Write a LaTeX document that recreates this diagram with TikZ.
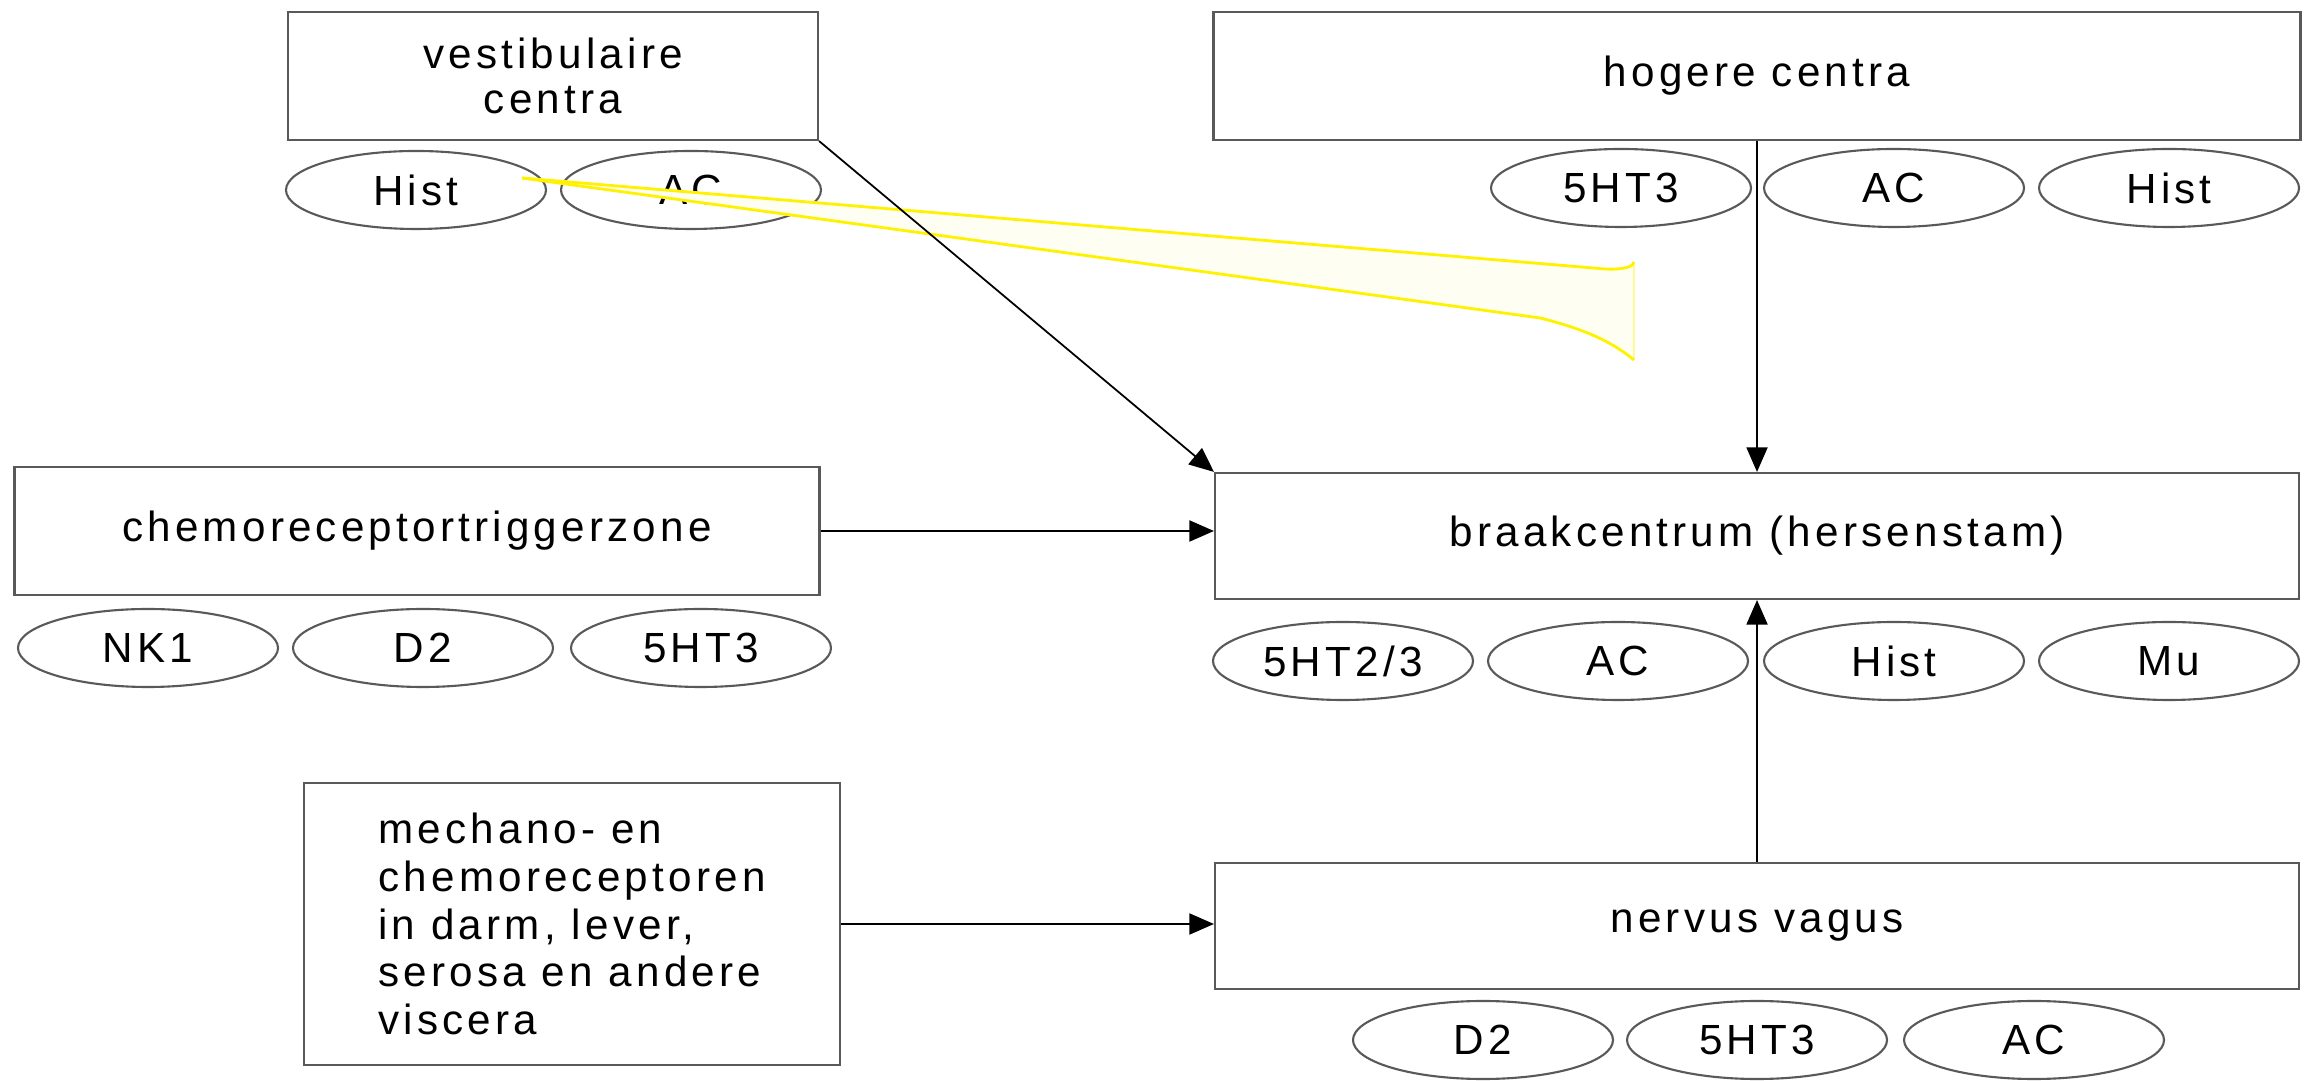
\documentclass[tikz,border=0pt]{standalone}
\usepackage{fontspec}
\setmainfont{Liberation Sans}[LetterSpace=10]
\usetikzlibrary{shapes.geometric,arrows.meta}
\tikzset{box/.style = {draw = black!65,line width = .6pt,minimum width = #1,minimum height = 1.28cm,align = center,inner sep = 0pt},
rcpt/.style = {draw = black!65,line width = .6pt,ellipse,minimum width = 2.6cm,minimum height = .78cm,inner sep = 0pt},
arrow/.style = {-{Triangle[length = 7pt,width = 6pt]},line width = .5pt}}

\begin{document}
\begin{tikzpicture}[font = \fontsize{12}{13}\selectfont]
\useasboundingbox (0,0) rectangle (23.04,-10.81);

\node[box = 10.87cm] (hog) at (17.57,-.76) {hogere centra};
\node[box = 5.30cm] (vest) at (5.53,-.76) {vestibulaire \\ centra};
\node[box = 8.05cm] (ctz) at (4.17,-5.31) {chemoreceptortriggerzone};
\node[box = 10.84cm,minimum height = 1.26cm] (braak) at (17.57,-5.36) {braakcentrum (hersenstam)};
\node[box = 5.36cm,minimum height = 2.82cm,align = left,font = \fontsize{12}{13.6}\selectfont] (mech) at (5.72,-9.24) {mechano- en \\ chemoreceptoren \\ in darm, lever, \\ serosa en andere \\ viscera};
\node[box = 10.84cm,minimum height = 1.26cm] (vag) at (17.57,-9.26) {nervus vagus};

% receptoren
\node[rcpt] (v1) at (4.16,-1.90) {Hist};
\node[rcpt] (v2) at (6.91,-1.90) {AC};

\node[rcpt] (h1) at (16.21,-1.88) {5HT3};
\node[rcpt] (h2) at (18.94,-1.88) {AC};
\node[rcpt] (h3) at (21.69,-1.88) {Hist};

\node[rcpt] (c1) at (1.48,-6.48) {NK1};
\node[rcpt] (c2) at (4.23,-6.48) {D2};
\node[rcpt] (c3) at (7.01,-6.48) {5HT3};

\node[rcpt] (b1) at (13.43,-6.61) {5HT2/3};
\node[rcpt] (b2) at (16.18,-6.61) {AC};
\node[rcpt] (b3) at (18.94,-6.61) {Hist};
\node[rcpt] (b4) at (21.69,-6.61) {Mu};

\node[rcpt] (n1) at (14.83,-10.40) {D2};
\node[rcpt] (n2) at (17.57,-10.40) {5HT3};
\node[rcpt] (n3) at (20.34,-10.40) {AC};

% gele vlek
\coordinate (y0) at (5.22,-1.78);
\fill[yellow!5] (y0) -- (16.05,-2.69) .. controls (16.25,-2.70) and (16.34,-2.66) .. (16.34,-2.62) -- (16.34,-3.60) .. controls (16.1,-3.40) and (15.8,-3.28) .. (15.4,-3.18) -- cycle;
\draw[yellow!40,line width = .6pt] (16.34,-2.62) -- (16.34,-3.60);
\draw[yellow,line width = .8pt] (y0) -- (16.05,-2.69) .. controls (16.25,-2.70) and (16.34,-2.66) .. (16.34,-2.62);
\draw[yellow,line width = .8pt] (16.34,-3.60) .. controls (16.1,-3.40) and (15.8,-3.28) .. (15.4,-3.18) -- (y0);

\draw[arrow] (vest.south east) -- (braak.north west);
\draw[arrow] (hog) -- (braak);
\draw[arrow] (ctz.east) -- (ctz.east -| braak.west);
\draw[arrow] (vag) -- (braak);
\draw[arrow] (mech.east) -- (mech.east -| vag.west);
\end{tikzpicture}
\end{document}
